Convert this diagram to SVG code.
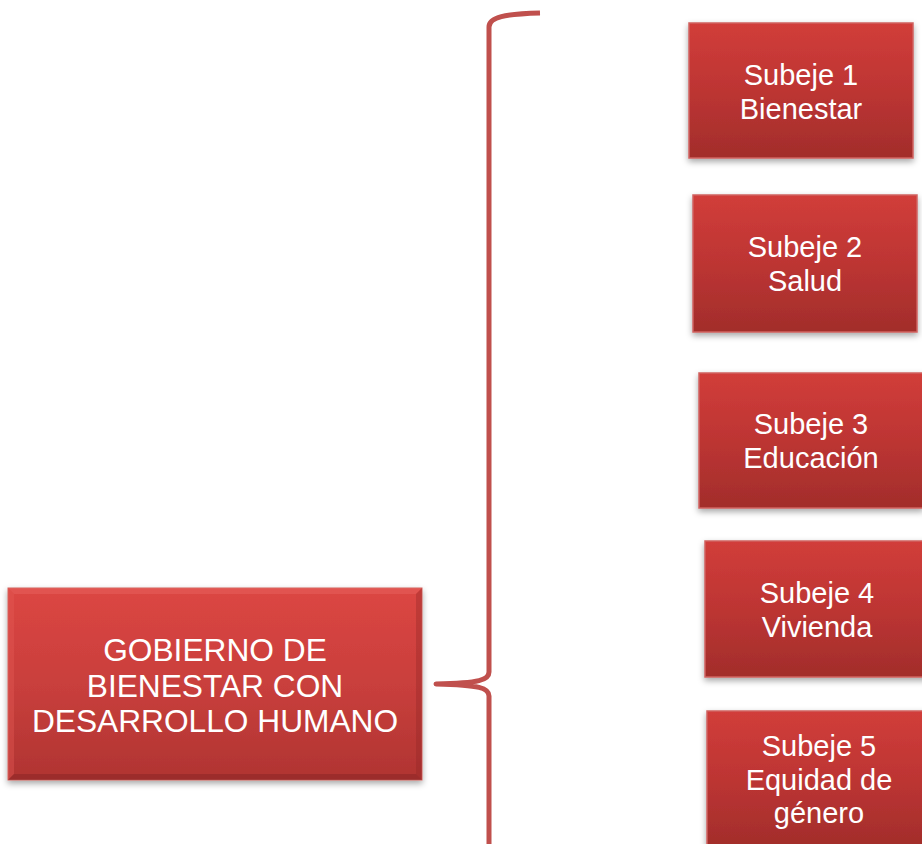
<svg xmlns="http://www.w3.org/2000/svg" width="922" height="844" viewBox="0 0 922 844">
<defs>
<linearGradient id="gSub" x1="0" y1="0" x2="0" y2="1">
<stop offset="0" stop-color="#d13d3a"/>
<stop offset="0.5" stop-color="#bd3533"/>
<stop offset="1" stop-color="#a22d2b"/>
</linearGradient>
<linearGradient id="gMain" x1="0" y1="0" x2="0" y2="1">
<stop offset="0" stop-color="#dc4643"/>
<stop offset="0.5" stop-color="#c93f3c"/>
<stop offset="1" stop-color="#b03432"/>
</linearGradient>
<filter id="sh" x="-10%" y="-10%" width="120%" height="125%">
<feDropShadow dx="0" dy="3" stdDeviation="3" flood-color="#000" flood-opacity="0.35"/>
</filter>
</defs>
<style>
.sub{fill:url(#gSub);stroke:#d0625f;stroke-width:1.5;filter:url(#sh)}
.main{fill:url(#gMain);stroke:#d0625f;stroke-width:1;filter:url(#sh)}
.t{font-family:"Liberation Sans",Arial,sans-serif;fill:#ffffff;text-anchor:middle}
.ts{font-size:29px}
.tm{font-size:31.7px}
.br{fill:none;stroke:#c0504d;stroke-width:5;stroke-linecap:butt;stroke-linejoin:round}
</style>
<rect width="922" height="844" fill="#ffffff"/>
<g id="connectors">
<path class="br" d="M 540,13 C 505,14 489,17 489,27 L 489,672 C 489,680 480,683 436,684 C 480,685 489,688 489,696 L 489,850"/>
</g>
<g id="main">
<rect class="main" x="8" y="588" width="414" height="192"/>
<polygon points="8,588 422,588 416,594 14,594" fill="#ea6a66" opacity="0.4"/>
<polygon points="8,588 14,594 14,774 8,780" fill="#e35a56" opacity="0.4"/>
<polygon points="422,588 422,780 416,774 416,594" fill="#8f2624" opacity="0.35"/>
<polygon points="8,780 14,774 416,774 422,780" fill="#7e2120" opacity="0.4"/>
<text class="t tm" x="215" y="661">GOBIERNO DE</text>
<text class="t tm" x="215" y="697">BIENESTAR CON</text>
<text class="t tm" x="215" y="732">DESARROLLO HUMANO</text>
</g>
<g id="sub1">
<rect class="sub" x="689" y="23" width="224" height="135"/>
<text class="t ts" x="801" y="85">Subeje 1</text>
<text class="t ts" x="801" y="119">Bienestar</text>
</g>
<g id="sub2">
<rect class="sub" x="693" y="195" width="224" height="137"/>
<text class="t ts" x="805" y="257">Subeje 2</text>
<text class="t ts" x="805" y="291">Salud</text>
</g>
<g id="sub3">
<rect class="sub" x="699" y="373" width="224" height="135"/>
<text class="t ts" x="811" y="434">Subeje 3</text>
<text class="t ts" x="811" y="468">Educación</text>
</g>
<g id="sub4">
<rect class="sub" x="705" y="541" width="224" height="136"/>
<text class="t ts" x="817" y="603">Subeje 4</text>
<text class="t ts" x="817" y="637">Vivienda</text>
</g>
<g id="sub5">
<rect class="sub" x="707" y="711" width="224" height="136"/>
<text class="t ts" x="819" y="756">Subeje 5</text>
<text class="t ts" x="819" y="790">Equidad de</text>
<text class="t ts" x="819" y="823">género</text>
</g>
</svg>
